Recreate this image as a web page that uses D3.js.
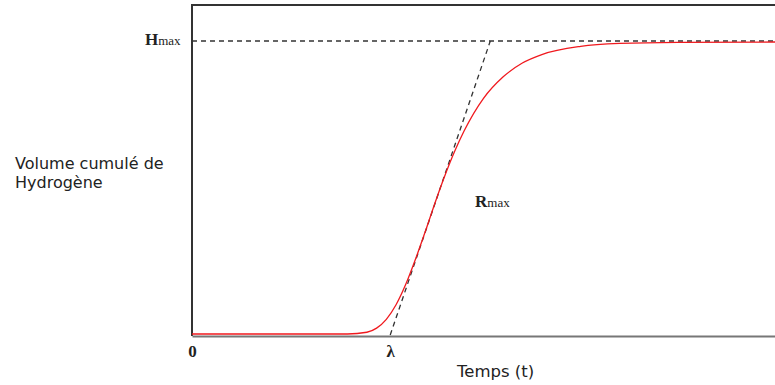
<!DOCTYPE html>
<html>
<head>
<meta charset="utf-8">
<script src="https://cdn.jsdelivr.net/npm/d3@7"></script>
<style>
    body { margin: 0; background: #fff; }
    .serif { font-family: "Liberation Serif", "DejaVu Serif", serif; fill: #222; }
    .sans { font-family: "DejaVu Sans", Verdana, sans-serif; fill: #222; }
</style>
</head>
<body>
<div id="main"></div>
<script>
const ctx = {
    w: 775,
    h: 385,
    left: 192,
    right: 775,
    bottom: 334,
    top: 42
};

// points (time, cumulated volume in % of Hmax)
const TIMES = [0, 6, 8, 9, 9.5, 10, 10.5, 11, 11.5, 12, 12.5, 13, 13.5, 14, 15, 16, 17, 18, 20, 22, 25, 30];
const VOLUMES = [0, 0, 0, 0.6, 2, 5, 10, 17, 25.6, 35, 44.8, 54, 62.3, 69.5, 80.7, 88, 92.8, 95.7, 98.5, 99.5, 99.9, 100];

// tangent at the inflection point: from lag time to Hmax
const LAMBDA = 10.2;
const TANGENT_END = 15.35;
const HMAX = 100;
const FRAME_TOP = 112.7;
const X_TICKS = [0, LAMBDA];
const X_TICK_LABELS = ["0", "λ"];

const x = d3.scaleLinear().domain([0, 30]).range([ctx.left, ctx.right]);
const y = d3.scaleLinear().domain([0, HMAX]).range([ctx.bottom, ctx.top]);

function createViz() {
    let svgEl = d3.select("#main").append("svg")
        .attr("width", ctx.w)
        .attr("height", ctx.h);

    // frame: left + top
    svgEl.append("path")
        .attr("d", `M${x(0)},${y(0) + 2}V${y(FRAME_TOP)}H${x(30)}`)
        .attr("fill", "none")
        .attr("stroke", "#333")
        .attr("stroke-width", 2);

    // bottom axis with the two labels
    let xAxis = d3.axisBottom(x)
        .tickValues(X_TICKS)
        .tickFormat((d, i) => X_TICK_LABELS[i])
        .tickSize(0)
        .tickPadding(9);
    let axG = svgEl.append("g")
        .attr("transform", `translate(0,${y(0) + 2})`)
        .call(xAxis);
    axG.select(".domain")
        .attr("stroke", "#777")
        .attr("stroke-width", 2);
    axG.selectAll("text")
        .attr("class", "serif")
        .style("font-size", "17px")
        .style("font-weight", "bold")
        .attr("fill", "#222");

    // Hmax dashed line
    svgEl.append("line")
        .attr("x1", x(0)).attr("x2", x(30))
        .attr("y1", y(HMAX) - 1).attr("y2", y(HMAX) - 1)
        .attr("stroke", "#333")
        .attr("stroke-width", 1.3)
        .attr("stroke-dasharray", "5,4");

    // tangent (Rmax)
    svgEl.append("line")
        .attr("x1", x(LAMBDA)).attr("y1", y(0) + 1)
        .attr("x2", x(TANGENT_END)).attr("y2", y(HMAX) - 1)
        .attr("stroke", "#333")
        .attr("stroke-width", 1.3)
        .attr("stroke-dasharray", "5,4");

    // growth curve
    let pts = TIMES.map((t, i) => [t, VOLUMES[i]]);
    svgEl.append("path")
        .datum(pts)
        .attr("d", d3.line()
            .x(d => x(d[0]))
            .y(d => y(d[1]))
            .curve(d3.curveMonotoneX))
        .attr("fill", "none")
        .attr("stroke", "#f0191e")
        .attr("stroke-width", 1.3);

    // labels
    let h = svgEl.append("text")
        .attr("class", "serif")
        .attr("x", 145)
        .attr("y", 45);
    h.append("tspan").text("H").style("font-size", "17px").style("font-weight", "bold");
    h.append("tspan").text("max").style("font-size", "13px");

    let r = svgEl.append("text")
        .attr("class", "serif")
        .attr("x", 475)
        .attr("y", 207);
    r.append("tspan").text("R").style("font-size", "17px").style("font-weight", "bold");
    r.append("tspan").text("max").style("font-size", "13px");

    let v = svgEl.append("text")
        .attr("class", "sans")
        .style("font-size", "16px");
    v.append("tspan").attr("x", 15).attr("y", 169).text("Volume cumulé de");
    v.append("tspan").attr("x", 15).attr("y", 188).text("Hydrogène");

    svgEl.append("text")
        .attr("class", "sans")
        .style("font-size", "16.5px")
        .attr("x", 457)
        .attr("y", 377)
        .text("Temps (t)");
};

createViz();
</script>
</body>
</html>
